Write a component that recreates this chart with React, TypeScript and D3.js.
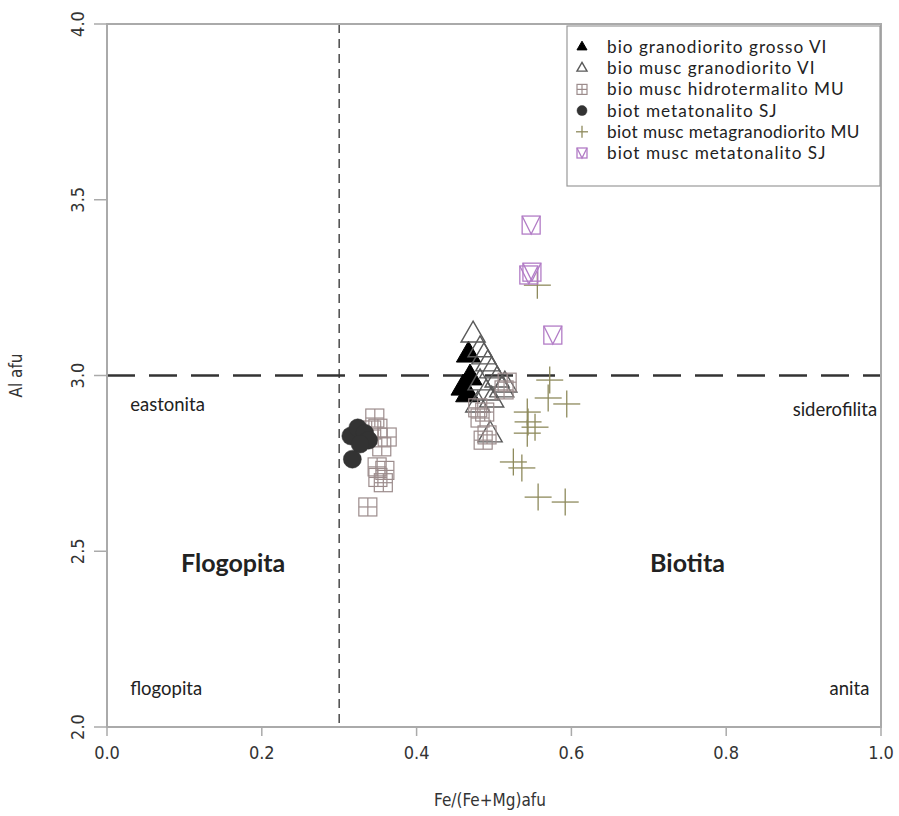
import React from "react";
import * as d3 from "d3";

const W = 899;
const H = 816;

const xTicks = [0, 0.2, 0.4, 0.6, 0.8, 1.0];
const yTicks = [2.0, 2.5, 3.0, 3.5, 4.0];

const seriesNames = [
  "bio granodiorito grosso VI",
  "bio musc granodiorito VI",
  "bio musc hidrotermalito MU",
  "biot metatonalito SJ",
  "biot musc metagranodiorito MU",
  "biot musc metatonalito SJ",
];

const granGrosso: [number, number][] = [
  [0.467, 3.058], [0.469, 2.993], [0.46, 2.964], [0.466, 2.945],
];

const muscGranodiorito: [number, number][] = [
  [0.473, 3.115], [0.482, 3.073], [0.487, 3.053], [0.492, 3.033], [0.497, 3.013],
  [0.504, 2.987], [0.51, 2.959], [0.482, 2.979], [0.49, 2.95], [0.497, 2.93],
  [0.479, 2.916], [0.495, 2.831], [0.514, 2.973],
];

const hidrotermalito: [number, number][] = [
  [0.346, 2.879], [0.35, 2.85], [0.362, 2.825], [0.355, 2.797], [0.342, 2.845],
  [0.349, 2.74], [0.359, 2.73], [0.35, 2.71], [0.357, 2.695], [0.337, 2.626],
  [0.479, 2.908], [0.488, 2.896], [0.482, 2.879], [0.491, 2.831], [0.486, 2.816],
  [0.517, 2.981], [0.513, 2.959],
];

const metatonalito: [number, number][] = [
  [0.315, 2.828], [0.324, 2.851], [0.333, 2.836], [0.338, 2.816], [0.327, 2.805],
  [0.317, 2.762],
];

const metagranodiorito: [number, number][] = [
  [0.556, 3.257], [0.572, 2.987], [0.57, 2.936], [0.594, 2.919], [0.543, 2.896],
  [0.544, 2.868], [0.553, 2.853], [0.543, 2.836], [0.525, 2.754], [0.536, 2.737],
  [0.557, 2.654], [0.592, 2.64],
];

const metatonalitoMusc: [number, number][] = [
  [0.548, 3.428], [0.549, 3.294], [0.545, 3.286], [0.576, 3.115],
];

const fieldLabels = [
  { text: "eastonita", x: 0.03, y: 2.9, anchor: "start" },
  { text: "siderofilita", x: 0.995, y: 2.885, anchor: "end" },
  { text: "flogopita", x: 0.03, y: 2.09, anchor: "start" },
  { text: "anita", x: 0.985, y: 2.09, anchor: "end" },
];

const bigLabels = [
  { text: "Flogopita", x: 0.163, y: 2.44 },
  { text: "Biotita", x: 0.75, y: 2.44 },
];

const margin = { left: 107, right: W - 881, top: 24, bottom: H - 727 };

const colors = ["#000000", "#5a5a5a", "#9c8c8c", "#333333", "#8e8a5c", "#b27cc6"];

const FONT_NUM = "'Liberation Sans Narrow', 'DejaVu Sans Condensed', 'Roboto Condensed', sans-serif";
const FONT_TXT = "Lato, 'Open Sans', sans-serif";

function Marker({ type, x, y, s, color }: { type: number; x: number; y: number; s: number; color: string }) {
  const h = s / 2;
  if (type === 0 || type === 1) {
    const r = s * 0.58;
    const pts = [
      [x, y - r],
      [x + r * 0.866, y + r * 0.5],
      [x - r * 0.866, y + r * 0.5],
    ];
    return (
      <polygon
        points={pts.map((p) => p.join(",")).join(" ")}
        fill={type === 0 ? color : "none"}
        stroke={color}
        strokeWidth={type === 0 ? 1 : 1.4}
      />
    );
  }
  if (type === 2) {
    return (
      <g stroke={color} strokeWidth={1.2} fill="none">
        <rect x={x - h} y={y - h} width={s} height={s} />
        <line x1={x - h} x2={x + h} y1={y} y2={y} />
        <line x1={x} x2={x} y1={y - h} y2={y + h} />
      </g>
    );
  }
  if (type === 3) {
    return <circle cx={x} cy={y} r={h} fill={color} stroke={color} strokeWidth={0.5} />;
  }
  if (type === 4) {
    return (
      <g stroke={color} strokeWidth={1.3}>
        <line x1={x - h} x2={x + h} y1={y} y2={y} />
        <line x1={x} x2={x} y1={y - h} y2={y + h} />
      </g>
    );
  }
  return (
    <g stroke={color} strokeWidth={1.3} fill="none">
      <rect x={x - h} y={y - h} width={s} height={s} />
      <polyline points={`${x - h},${y - h} ${x},${y + h} ${x + h},${y - h}`} />
    </g>
  );
}

export default function App() {
  const x = d3.scaleLinear().domain([0, 1]).range([margin.left, W - margin.right]);
  const y = d3.scaleLinear().domain([2, 4]).range([H - margin.bottom, margin.top]);

  const allSeries = [granGrosso, muscGranodiorito, hidrotermalito, metatonalito, metagranodiorito, metatonalitoMusc];
  const sizes = [24, 24, 18, 18, 27, 18];

  const legendX = 567;
  const legendY = 26;
  const legendRow = 21.2;

  return (
    <svg width={W} height={H} style={{ display: "block", position: "absolute", left: 0, top: 0, background: "#fff" }}>
      <rect x={0} y={0} width={W} height={H} fill="#fff" />
      {/* dashed reference lines */}
      <line x1={x(0.3)} x2={x(0.3)} y1={y(4)} y2={y(2)} stroke="#555" strokeWidth={1.6} strokeDasharray="9 6" />
      <line x1={x(0)} x2={x(1)} y1={y(3)} y2={y(3)} stroke="#333" strokeWidth={2.6} strokeDasharray="28 14" />

      {/* points */}
      {allSeries.map((ser, si) => (
        <g key={si}>
          {ser.map((d, i) => (
            <Marker key={i} type={si} x={x(d[0])} y={y(d[1])} s={sizes[si]} color={colors[si]} />
          ))}
        </g>
      ))}

      {/* box / axes */}
      <rect x={x(0)} y={y(4)} width={x(1) - x(0)} height={y(2) - y(4)} fill="none" stroke="#aaa" strokeWidth={2} />
      {xTicks.map((t) => (
        <g key={t}>
          <line x1={x(t)} x2={x(t)} y1={y(2)} y2={y(2) + 9} stroke="#aaa" strokeWidth={1.5} />
          <text x={x(t)} y={y(2) + 32} textAnchor="middle" fontFamily={FONT_NUM} fontSize={18} fill="#333">
            {t.toFixed(1)}
          </text>
        </g>
      ))}
      {yTicks.map((t) => (
        <g key={t}>
          <line x1={x(0) - 13} x2={x(0)} y1={y(t)} y2={y(t)} stroke="#aaa" strokeWidth={1.5} />
          <text
            transform={`translate(${x(0) - 23},${y(t)}) rotate(-90)`}
            textAnchor="middle"
            fontFamily={FONT_NUM}
            fontSize={18}
            fill="#333"
          >
            {t.toFixed(1)}
          </text>
        </g>
      ))}

      {/* axis titles */}
      <text
        transform={`translate(22,${y(3)}) rotate(-90)`}
        textAnchor="middle"
        fontFamily={FONT_NUM}
        fontSize={17}
        fill="#333"
      >
        Al afu
      </text>
      <text x={490} y={806} textAnchor="middle" fontFamily={FONT_NUM} fontSize={17} fill="#333">
        Fe/(Fe+Mg)afu
      </text>

      {/* field labels */}
      {fieldLabels.map((l) => (
        <text
          key={l.text}
          x={x(l.x)}
          y={y(l.y)}
          textAnchor={l.anchor as any}
          fontFamily={FONT_TXT}
          fontSize={18.5}
          fill="#222"
        >
          {l.text}
        </text>
      ))}
      {bigLabels.map((l) => (
        <text
          key={l.text}
          x={x(l.x)}
          y={y(l.y)}
          textAnchor="middle"
          fontFamily={FONT_TXT}
          fontSize={25}
          fontWeight="bold"
          fill="#222"
        >
          {l.text}
        </text>
      ))}

      {/* legend */}
      <rect x={legendX} y={legendY} width={x(1) - 1 - legendX} height={160} fill="#fff" stroke="#999" strokeWidth={1.2} />
      {seriesNames.map((name, i) => {
        const cy = legendY + 21 + i * legendRow;
        return (
          <g key={name}>
            <Marker type={i} x={legendX + 15} y={cy} s={i === 4 ? 12 : 10} color={colors[i]} />
            <text
              x={legendX + 40}
              y={cy + 6}
              fontFamily={FONT_TXT}
              fontSize={17.2}
              fill="#222"
              letterSpacing={i === 4 ? 0.4 : 1.0}
            >
              {name}
            </text>
          </g>
        );
      })}
    </svg>
  );
}
